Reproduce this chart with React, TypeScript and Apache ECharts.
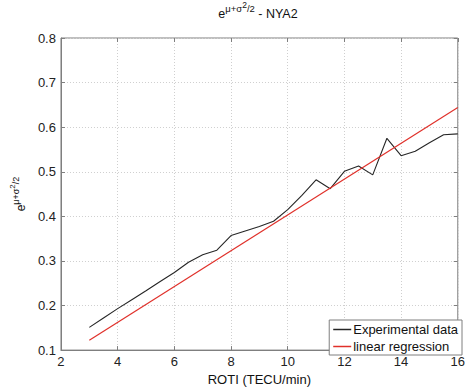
import React, { useEffect, useRef } from "react";
import * as echarts from "echarts";

// ROTI bins (TECU/min) and the measured e^(mu+sigma^2/2) values
const rotiValues = [
  3, 3.5, 4, 4.5, 5, 5.5, 6, 6.5, 7, 7.5, 8, 8.5, 9, 9.5, 10, 10.5, 11, 11.5,
  12, 12.5, 13, 13.5, 14, 14.5, 15, 15.5, 16,
];
const experimentalValues = [
  0.151, 0.172, 0.193, 0.213, 0.233, 0.254, 0.274, 0.297, 0.314, 0.324, 0.357,
  0.367, 0.377, 0.389, 0.415, 0.447, 0.482, 0.462, 0.501, 0.513, 0.493, 0.575,
  0.536, 0.546, 0.565, 0.583, 0.585,
];
// Fitted straight line, evaluated at the ends of the ROTI range
const regressionX = [3, 16];
const regressionY = [0.122, 0.644];

const xTicks = [2, 4, 6, 8, 10, 12, 14, 16];
const yTicks = [0.1, 0.2, 0.3, 0.4, 0.5, 0.6, 0.7, 0.8];

const FONT = "'Liberation Sans', Arial, sans-serif";
const FRAME = "#7f7f7f";
const GRID = "#cfcfcf";

const supRich = (base: number) => ({
  b: { fontSize: base, fontFamily: FONT, fontWeight: "normal", color: "#111", verticalAlign: "bottom", lineHeight: base + 2 },
  s: { fontSize: base - 3, fontFamily: FONT, fontWeight: "normal", color: "#111", verticalAlign: "bottom", lineHeight: base - 3, padding: [0, 0, 7, 0] },
  ss: { fontSize: base - 4, fontFamily: FONT, fontWeight: "normal", color: "#111", verticalAlign: "bottom", lineHeight: base - 4, padding: [0, 0, 11, 0] },
});

export default function App() {
  const ref = useRef<HTMLDivElement>(null);

  useEffect(() => {
    document.body.style.margin = "0";
    if (!ref.current) return;
    const chart = echarts.init(ref.current, undefined, { renderer: "svg" });

    const axisLabel = { color: "#222", fontSize: 13, fontFamily: FONT, margin: 5 };

    chart.setOption({
      animation: false,
      backgroundColor: "#fff",
      title: {
        text: "{b|e}{s|μ+σ}{ss|2}{s|/2}{b| - NYA2}",
        left: 258,
        textAlign: "center",
        top: 6,
        padding: 0,
        textStyle: { fontWeight: "normal", rich: supRich(12.5) },
      },
      grid: {
        left: 53,
        right: 5,
        top: 38,
        bottom: 32,
        show: true,
        borderColor: FRAME,
        borderWidth: 1,
        backgroundColor: "transparent",
      },
      legend: {
        orient: "vertical",
        right: 6,
        bottom: 36,
        data: ["Experimental data", "linear regression"],
        icon: "rect",
        backgroundColor: "#fff",
        borderColor: FRAME,
        borderWidth: 1,
        borderRadius: 0,
        padding: [3, 4, 2, 4],
        itemWidth: 18,
        itemHeight: 1.5,
        itemGap: 4,
        textStyle: { fontSize: 13, fontFamily: FONT, color: "#111", padding: [0, 0, 0, -3], lineHeight: 13 },
      },
      xAxis: [
        {
          type: "value",
          min: xTicks[0],
          max: xTicks[xTicks.length - 1],
          interval: 2,
          name: "ROTI (TECU/min)",
          nameLocation: "middle",
          nameGap: 22,
          nameTextStyle: { fontSize: 13, fontFamily: FONT, color: "#111" },
          axisLine: { lineStyle: { color: FRAME } },
          axisTick: { inside: true, length: 4, lineStyle: { color: FRAME } },
          axisLabel,
          splitLine: { show: true, lineStyle: { color: GRID, type: [1, 2] } },
        },
        {
          type: "value",
          position: "top",
          min: xTicks[0],
          max: xTicks[xTicks.length - 1],
          interval: 2,
          axisLine: { show: false },
          axisTick: { inside: true, length: 4, lineStyle: { color: FRAME } },
          axisLabel: { show: false },
          splitLine: { show: false },
        },
      ],
      yAxis: [
        {
          type: "value",
          min: yTicks[0],
          max: yTicks[yTicks.length - 1],
          interval: 0.1,
          name: "{b|e}{s|μ+σ}{ss|2}{s|/2}",
          nameLocation: "middle",
          nameRotate: 90,
          nameGap: 27,
          nameTextStyle: { rich: supRich(12) },
          axisLine: { lineStyle: { color: FRAME } },
          axisTick: { inside: true, length: 4, lineStyle: { color: FRAME } },
          axisLabel: { ...axisLabel, formatter: (v: number) => v.toFixed(1) },
          splitLine: { show: true, lineStyle: { color: GRID, type: [1, 2] } },
        },
        {
          type: "value",
          position: "right",
          min: yTicks[0],
          max: yTicks[yTicks.length - 1],
          interval: 0.1,
          axisLine: { show: false },
          axisTick: { inside: true, length: 4, lineStyle: { color: FRAME } },
          axisLabel: { show: false },
          splitLine: { show: false },
        },
      ],
      series: [
        {
          name: "Experimental data",
          type: "line",
          symbol: "none",
          data: rotiValues.map((x, i) => [x, experimentalValues[i]]),
          lineStyle: { color: "#262626", width: 1.1 },
          itemStyle: { color: "#262626" },
          z: 3,
        },
        {
          name: "linear regression",
          type: "line",
          symbol: "none",
          data: regressionX.map((x, i) => [x, regressionY[i]]),
          lineStyle: { color: "#e0302a", width: 1.2 },
          itemStyle: { color: "#e0302a" },
          z: 4,
        },
      ],
    });

    return () => chart.dispose();
  }, []);

  return <div ref={ref} style={{ width: 468, height: 391 }} />;
}
